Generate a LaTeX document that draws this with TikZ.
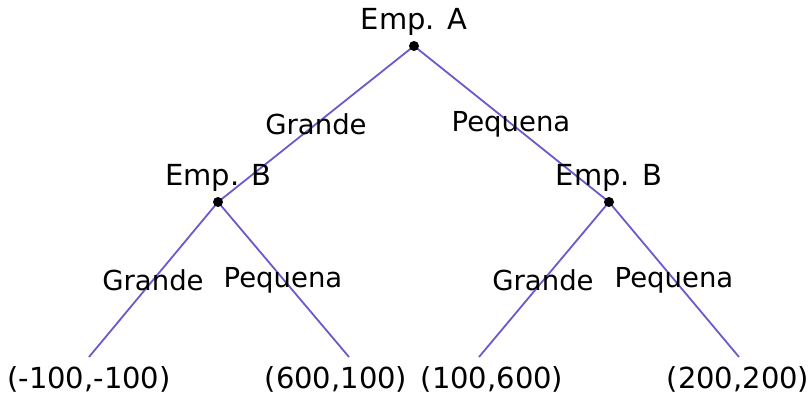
\documentclass[tikz,border=0pt]{standalone}
\usepackage{fontspec}
\setmainfont{DejaVu Sans}
\usetikzlibrary{backgrounds}
\definecolor{edgec}{HTML}{6A5ACD}
\begin{document}
\begin{tikzpicture}[x=1pt,y=-1pt,
  edge/.style={draw=edgec,line width=1.8pt},
  dot/.style={circle,fill=black,inner sep=0pt,minimum size=10pt},
  lbl/.style={anchor=base,inner sep=0pt,font=\fontsize{29}{33}\selectfont},
  elbl/.style={anchor=base,inner sep=0pt,font=\fontsize{27.5}{31}\selectfont}]
\useasboundingbox (0,0) rectangle (812,395);
\node[dot] (a) at (414,46) {};
\node[dot] (bl) at (218,202) {};
\node[dot] (br) at (609,202) {};
\coordinate (l1) at (89,357);
\coordinate (l2) at (349,357);
\coordinate (l3) at (479,357);
\coordinate (l4) at (739,357);
\begin{scope}[on background layer]
\draw[edge] (a.center) -- (bl.center);
\draw[edge] (a.center) -- (br.center);
\draw[edge] (bl.center) -- (l1);
\draw[edge] (bl.center) -- (l2);
\draw[edge] (br.center) -- (l3);
\draw[edge] (br.center) -- (l4);
\end{scope}
\node[lbl] (ta) at (414,30) {Emp. A};
\node[lbl] (tbl) at (218.5,186) {Emp. B};
\node[lbl] (tbr) at (609,186) {Emp. B};
\node[elbl] (e1) at (316,135) {Grande};
\node[elbl] (e2) at (511,132) {Pequena};
\node[elbl] (e3) at (153,291) {Grande};
\node[elbl] (e4) at (283,288) {Pequena};
\node[elbl] (e5) at (543,291) {Grande};
\node[elbl] (e6) at (674,288) {Pequena};
\node[lbl] (p1) at (89,389) {(-100,-100)};
\node[lbl] (p2) at (336,389) {(600,100)};
\node[lbl] (p3) at (492,389) {(100,600)};
\node[lbl] (p4) at (738,389) {(200,200)};
\end{tikzpicture}
\end{document}
